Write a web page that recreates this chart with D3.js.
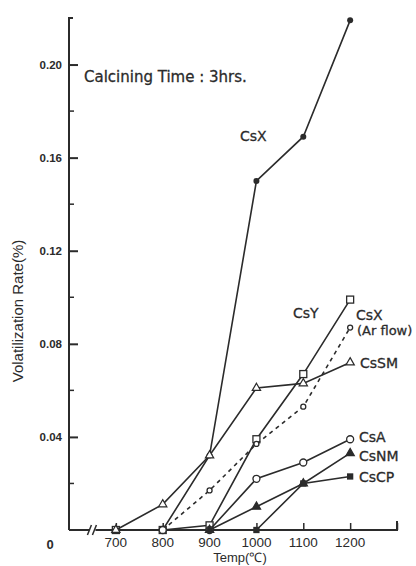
<!DOCTYPE html>
<html>
<head>
<meta charset="utf-8">
<script src="https://cdn.jsdelivr.net/npm/d3@7"></script>
<style>
  body { margin: 0; background: #fff; }
  svg { display: block; }
  .tick text { font-family: "Liberation Sans", Arial, sans-serif; }
</style>
</head>
<body>
<div id="chart"></div>
<script>
// temperatures (°C) and volatilization rate (%)
const temps = [700, 800, 900, 1000, 1100, 1200];
const csX   = [0, 0, 0.032, 0.150, 0.169, 0.219];
const csY   = [0, 0, 0.002, 0.039, 0.067, 0.099];
const csXAr = [null, 0, 0.017, 0.037, 0.053, 0.087];
const csSM  = [0, 0.011, 0.032, 0.061, 0.063, 0.072];
const csA   = [null, 0, 0, 0.022, 0.029, 0.039];
const csNM  = [null, null, 0, 0.010, 0.020, 0.033];
const csCP  = [null, null, null, 0, 0.020, 0.023];

const xTicks = [700, 800, 900, 1000, 1100, 1200];
const yTicks = [0.04, 0.08, 0.12, 0.16, 0.20];
const yMinor = [0.02, 0.06, 0.10, 0.14, 0.18];

const width = 416, height = 566;
const ink = "#2b2b2b";

const svg = d3.select("#chart")
  .append("svg")
    .attr("width", width)
    .attr("height", height);

const x = d3.scaleLinear()
  .domain([600, 1300])
  .range([69, 397]);

const y = d3.scaleLinear()
  .domain([0, 0.22])
  .range([530, 18]);

// Y axis (ticks point inward)
const yAxis = svg.append("g")
  .attr("transform", "translate(" + x(600) + ",0)")
  .call(d3.axisRight(y).tickValues(yTicks).tickSize(9).tickFormat(d3.format(".2f")));
yAxis.select(".domain").attr("stroke", ink).attr("stroke-width", 2).attr("d", "M0," + y(0) + "V" + y(0.22) + "h4");
yAxis.selectAll(".tick line").attr("stroke", ink).attr("stroke-width", 2);
yAxis.selectAll(".tick text")
  .attr("x", -7)
  .attr("text-anchor", "end")
  .attr("fill", ink)
  .style("font-size", "11.5px")
  .style("font-weight", "bold");

svg.append("g")
  .selectAll("line")
  .data(yMinor)
  .enter()
  .append("line")
  .attr("x1", x(600)).attr("x2", x(600) + 5)
  .attr("y1", d => y(d)).attr("y2", d => y(d))
  .attr("stroke", ink).attr("stroke-width", 1.5);

// X axis (ticks point up)
const xAxis = svg.append("g")
  .attr("transform", "translate(0," + y(0) + ")")
  .call(d3.axisTop(x).tickValues([700, 800, 900, 1000, 1100, 1200, 1300]).tickSize(7).tickFormat(""));
xAxis.select(".domain").attr("stroke", ink).attr("stroke-width", 2)
  .attr("d", "M" + x(600) + ",0H" + x(1300) + "v-9");
xAxis.selectAll(".tick line").attr("stroke", ink).attr("stroke-width", 1.5);

svg.append("g")
  .selectAll("text")
  .data(xTicks)
  .enter()
  .append("text")
  .attr("x", d => x(d))
  .attr("y", y(0) + 17)
  .attr("text-anchor", "middle")
  .attr("fill", ink)
  .style("font-family", "'Liberation Sans', Arial, sans-serif")
  .style("font-size", "13.5px")
  .text(d => d);

// origin label and axis break
svg.append("text")
  .attr("x", 50).attr("y", y(0) + 19)
  .attr("text-anchor", "middle")
  .attr("fill", ink)
  .style("font-family", "'Liberation Sans', Arial, sans-serif")
  .style("font-size", "13px")
  .style("font-weight", "bold")
  .text("0");

const brk = x(650);
svg.append("rect").attr("x", brk - 3).attr("y", y(0) - 3).attr("width", 6).attr("height", 6).attr("fill", "#fff");
[-3, 2].forEach(o => {
  svg.append("line")
    .attr("x1", brk + o - 2).attr("y1", y(0) + 5)
    .attr("x2", brk + o + 2).attr("y2", y(0) - 5)
    .attr("stroke", ink).attr("stroke-width", 1.5);
});

// series
const series = [
  { name: "CsX",  values: csX,   marker: "dot",     dash: null },
  { name: "CsY",  values: csY,   marker: "square",  dash: null },
  { name: "CsXAr",values: csXAr, marker: "ring",    dash: "4,4" },
  { name: "CsSM", values: csSM,  marker: "tri",     dash: null },
  { name: "CsA",  values: csA,   marker: "circle",  dash: null },
  { name: "CsNM", values: csNM,  marker: "ftri",    dash: null },
  { name: "CsCP", values: csCP,  marker: "fsquare", dash: null }
];

const line = d3.line()
  .defined(d => d[1] !== null)
  .x(d => x(d[0]))
  .y(d => y(d[1]));

series.forEach(s => {
  const pts = temps.map((t, i) => [t, s.values[i]]);
  svg.append("path")
    .datum(pts)
    .attr("d", line)
    .attr("fill", "none")
    .attr("stroke", ink)
    .attr("stroke-width", 1.6)
    .attr("stroke-dasharray", s.dash);

  const g = svg.append("g");
  pts.filter(d => d[1] !== null).forEach(d => {
    const cx = x(d[0]), cy = y(d[1]);
    if (s.marker === "dot") {
      g.append("circle").attr("cx", cx).attr("cy", cy).attr("r", 3).attr("fill", ink);
    } else if (s.marker === "circle" || s.marker === "ring") {
      g.append("circle").attr("cx", cx).attr("cy", cy).attr("r", s.marker === "ring" ? 2.5 : 3.5)
        .attr("fill", "#fff").attr("stroke", ink).attr("stroke-width", 1.3);
    } else if (s.marker === "square" || s.marker === "fsquare") {
      const r = s.marker === "square" ? 3.5 : 2.5;
      g.append("rect").attr("x", cx - r).attr("y", cy - r).attr("width", 2 * r).attr("height", 2 * r)
        .attr("fill", s.marker === "square" ? "#fff" : ink).attr("stroke", ink).attr("stroke-width", 1.3);
    } else {
      g.append("path")
        .attr("d", d3.symbol(d3.symbolTriangle, 30)())
        .attr("transform", "translate(" + cx + "," + cy + ")")
        .attr("fill", s.marker === "tri" ? "#fff" : ink)
        .attr("stroke", ink).attr("stroke-width", 1.2);
    }
  });
});

// annotations
const labelFont = "'DejaVu Sans', sans-serif";
const labels = [
  { t: "Calcining Time : 3hrs.", x: 84, y: 82, s: 15 },
  { t: "CsX", x: 240, y: 141, s: 14 },
  { t: "CsY", x: 293, y: 318, s: 14 },
  { t: "CsX", x: 356, y: 320, s: 14 },
  { t: "(Ar flow)", x: 357, y: 335, s: 13 },
  { t: "CsSM", x: 360, y: 368, s: 14 },
  { t: "CsA", x: 359, y: 442, s: 14 },
  { t: "CsNM", x: 359, y: 461, s: 14 },
  { t: "CsCP", x: 359, y: 482, s: 14 }
];
svg.append("g")
  .selectAll("text")
  .data(labels)
  .enter()
  .append("text")
  .attr("x", d => d.x)
  .attr("y", d => d.y)
  .attr("fill", ink)
  .attr("stroke", ink)
  .attr("stroke-width", 0.3)
  .style("font-family", labelFont)
  .style("font-size", d => d.s + "px")
  .text(d => d.t);

svg.append("text")
  .attr("x", 240).attr("y", 562)
  .attr("text-anchor", "middle")
  .attr("fill", ink)
  .style("font-family", "'Liberation Sans', Arial, sans-serif")
  .style("font-size", "13px")
  .text("Temp(\u2103)");

svg.append("text")
  .attr("text-anchor", "middle")
  .attr("fill", ink)
  .style("font-family", "'Liberation Sans', Arial, sans-serif")
  .style("font-size", "15px")
  .text("Volatilization Rate(%)")
  .attr("transform", "translate(23," + 311 + ") rotate(-90)");
</script>
</body>
</html>
